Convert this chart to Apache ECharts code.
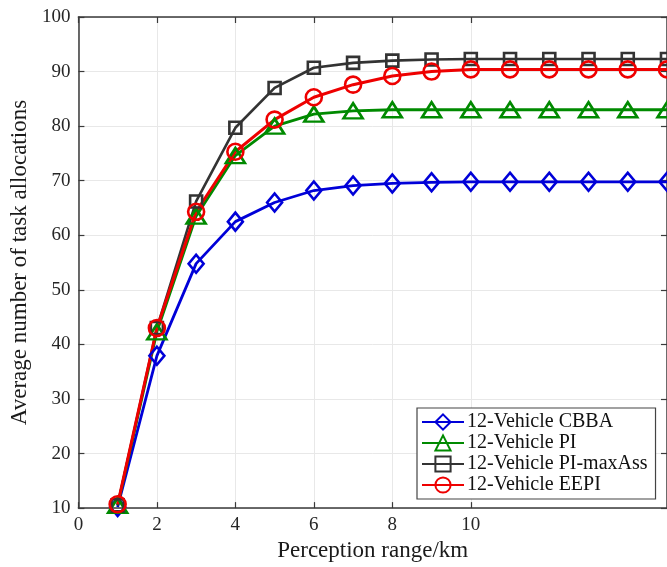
<!DOCTYPE html>
<html>
<head>
<meta charset="utf-8">
<script src="https://cdn.jsdelivr.net/npm/echarts@6/dist/echarts.min.js"></script>
<style>
  html, body { margin: 0; padding: 0; background: #fff; }
  #chart { width: 667px; height: 567px; }
</style>
</head>
<body>
<div id="chart"></div>
<script>
// Data
const xValues = [1, 2, 3, 4, 5, 6, 7, 8, 9, 10, 11, 12, 13, 14, 15];
const cbba  = [10.2, 37.9, 54.8, 62.5, 66.0, 68.2, 69.1, 69.5, 69.7, 69.8, 69.8, 69.8, 69.8, 69.8, 69.8];
const pi    = [10.5, 42.3, 63.5, 74.6, 80.0, 82.2, 82.8, 83.0, 83.0, 83.0, 83.0, 83.0, 83.0, 83.0, 83.0];
const piMax = [10.5, 43.0, 66.2, 79.7, 87.0, 90.7, 91.6, 92.0, 92.2, 92.3, 92.3, 92.3, 92.3, 92.3, 92.3];
const eepi  = [10.7, 43.0, 64.3, 75.3, 81.2, 85.3, 87.6, 89.2, 90.0, 90.4, 90.4, 90.4, 90.4, 90.4, 90.4];
const xTickValues = [0, 2, 4, 6, 8, 10];
const seriesNames = ['12-Vehicle CBBA', '12-Vehicle PI', '12-Vehicle PI-maxAss', '12-Vehicle EEPI'];

const FONT = '"Liberation Serif", "Times New Roman", serif';
const axisColor = '#3a3a3a';
const gridColor = '#e8e8e8';
const noLine = 'rgba(255,255,255,0)';
// vertical grid lines only where the x ticks are labelled (0..10); none at 12, 14, 15
const xGridColors = [gridColor, gridColor, gridColor, gridColor, gridColor, gridColor, noLine, noLine, noLine];

function pairs(ys) { return xValues.map((x, i) => [x, ys[i]]); }

function lineSeries(name, ys, color, symbol, size, lw) {
  return {
    name: name,
    type: 'line',
    data: pairs(ys),
    symbol: symbol,
    symbolSize: size,
    showAllSymbol: true,
    clip: false,
    lineStyle: { color: color, width: lw },
    itemStyle: { color: 'rgba(255,255,255,0)', borderColor: color, borderWidth: 2.6 },
    emphasis: { disabled: true },
    animation: false
  };
}

const chart = echarts.init(document.getElementById('chart'));
chart.setOption({
  animation: false,
  backgroundColor: '#fff',
  grid: { left: 78, top: 17, width: 590, height: 493, containLabel: false },
  legend: {
    orient: 'vertical',
    left: 417,
    top: 408,
    itemWidth: 42,
    itemHeight: 19,
    itemGap: 1,
    padding: [4, 8, 4, 4],
    borderColor: '#444',
    borderWidth: 1.2,
    backgroundColor: '#fff',
    textStyle: { fontFamily: FONT, fontSize: 20, color: '#111', padding: [0, 0, 0, -2] },
    data: seriesNames
  },
  xAxis: [
    {
      type: 'value', min: 0, max: 15, interval: 2,
      name: 'Perception range/km', nameLocation: 'middle', nameGap: 29,
      nameTextStyle: { fontFamily: FONT, fontSize: 23, color: '#1a1a1a' },
      axisLine: { show: true, onZero: false, lineStyle: { color: axisColor, width: 1.5 } },
      axisTick: { show: true, inside: true, length: 6, customValues: xTickValues, lineStyle: { color: axisColor, width: 1.2 } },
      axisLabel: { customValues: xTickValues, fontFamily: FONT, fontSize: 19, color: '#262626', margin: 7 },
      splitLine: { show: true, lineStyle: { color: xGridColors, width: 1 } }
    },
    {
      type: 'value', min: 0, max: 15, interval: 2, position: 'top',
      axisLine: { show: true, onZero: false, lineStyle: { color: axisColor, width: 1.5 } },
      axisTick: { show: true, inside: true, length: 6, customValues: xTickValues, lineStyle: { color: axisColor, width: 1.2 } },
      axisLabel: { show: false },
      splitLine: { show: false }
    }
  ],
  yAxis: [
    {
      type: 'value', min: 10, max: 100, interval: 10,
      name: 'Average number of task allocations', nameLocation: 'middle', nameGap: 44,
      nameTextStyle: { fontFamily: FONT, fontSize: 23, color: '#1a1a1a' },
      axisLine: { show: true, onZero: false, lineStyle: { color: axisColor, width: 1.5 } },
      axisTick: { show: true, inside: true, length: 6, lineStyle: { color: axisColor, width: 1.2 } },
      axisLabel: { fontFamily: FONT, fontSize: 19, color: '#262626', margin: 8 },
      splitLine: { show: true, lineStyle: { color: gridColor, width: 1 } }
    },
    {
      type: 'value', min: 10, max: 100, interval: 10, position: 'right',
      axisLine: { show: true, onZero: false, lineStyle: { color: axisColor, width: 1.5 } },
      axisTick: { show: true, inside: true, length: 6, lineStyle: { color: axisColor, width: 1.2 } },
      axisLabel: { show: false },
      splitLine: { show: false }
    }
  ],
  series: [
    lineSeries(seriesNames[0], cbba, '#0000d8', 'diamond', [15, 18], 2.8),
    lineSeries(seriesNames[1], pi, '#008a00', 'triangle', [19, 15], 2.8),
    lineSeries(seriesNames[2], piMax, '#333333', 'rect', [12, 12], 2.6),
    lineSeries(seriesNames[3], eepi, '#ee0000', 'circle', 16, 3)
  ]
});
</script>
</body>
</html>
